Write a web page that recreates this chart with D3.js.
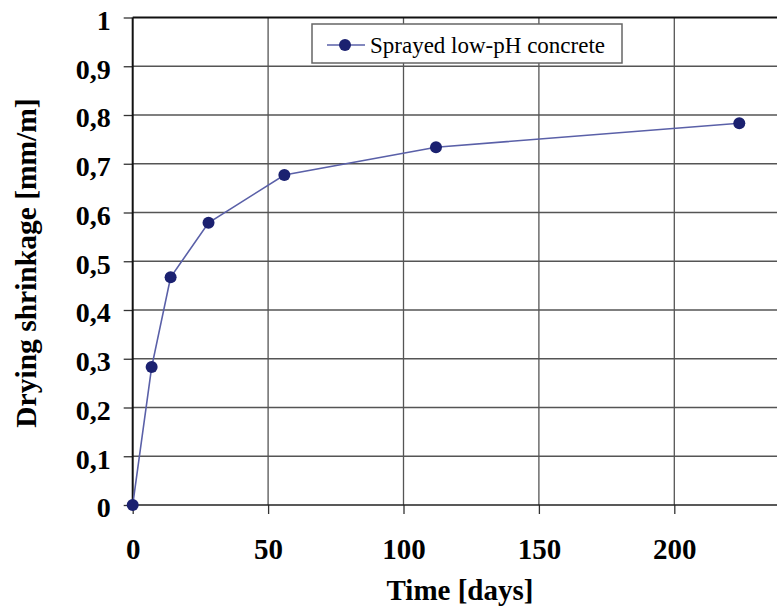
<!DOCTYPE html>
<html>
<head>
<meta charset="utf-8">
<script src="https://cdn.jsdelivr.net/npm/d3@7"></script>
<style>
  html, body { margin: 0; padding: 0; background: #fff; }
  svg { display: block; }
  svg text { font-family: "Liberation Serif", "Times New Roman", Times, "DejaVu Serif", serif; }
</style>
</head>
<body>
<svg id="chart" width="777" height="610"></svg>
<script>
const seriesName = "Sprayed low-pH concrete";
const days = [0, 7, 14, 28, 56, 112, 224];
const shrinkage = [0, 0.283, 0.467, 0.579, 0.677, 0.734, 0.783];
const xTicks = [0, 50, 100, 150, 200];
const yTicks = [0, 0.1, 0.2, 0.3, 0.4, 0.5, 0.6, 0.7, 0.8, 0.9, 1];
const xTitle = "Time [days]";
const yTitle = "Drying shrinkage [mm/m]";

(function () {
const svg = d3.select("#chart");
const pLeft = 132.7, pTop = 17.5, pBottom = 505;
const x0 = d3.scaleLinear().domain([0, 50]).range([pLeft, 268.1]);
const xMax = x0.invert(800);
const x = d3.scaleLinear().domain([0, xMax]).range([pLeft, 800]);
const y = d3.scaleLinear().domain([0, 1]).range([pBottom, pTop]);
const font = '"Liberation Serif", "Times New Roman", Times, serif';

// gridlines
const g = svg.append("g");
g.selectAll("line.h").data(yTicks.slice(1, -1)).join("line")
  .attr("x1", pLeft).attr("x2", 800)
  .attr("y1", d => y(d)).attr("y2", d => y(d))
  .attr("stroke", "#555").attr("stroke-width", 1.3);
g.selectAll("line.v").data(xTicks.slice(1)).join("line")
  .attr("x1", d => x(d)).attr("x2", d => x(d))
  .attr("y1", pTop).attr("y2", pBottom)
  .attr("stroke", "#555").attr("stroke-width", 1.3);

// axes
const yAxis = d3.axisLeft(y).tickValues(yTicks).tickSize(9).tickPadding(13)
  .tickFormat(d => d3.format("")(d).replace(".", ","));
const ya = svg.append("g").attr("transform", `translate(${pLeft},0)`).call(yAxis);
ya.attr("font-family", null);
ya.select(".domain").remove();
ya.selectAll(".tick line").attr("stroke", "#333").attr("stroke-width", 1.3);
ya.selectAll(".tick text").style("font-family", font).style("font-weight", "bold")
  .style("font-size", "28px").attr("fill", "#000").attr("dy", "0.42em");

const xAxis = d3.axisBottom(x).tickValues(xTicks).tickSize(9).tickPadding(24);
const xa = svg.append("g").attr("transform", `translate(0,${pBottom})`).call(xAxis);
xa.attr("font-family", null);
xa.select(".domain").remove();
xa.selectAll(".tick line").attr("stroke", "#333").attr("stroke-width", 1.3);
xa.selectAll(".tick text").style("font-family", font).style("font-weight", "bold")
  .style("font-size", "29px").attr("fill", "#000");

// frame
svg.append("line").attr("x1", pLeft).attr("x2", 800).attr("y1", pTop).attr("y2", pTop)
  .attr("stroke", "#111").attr("stroke-width", 2);
svg.append("line").attr("x1", pLeft).attr("x2", 800).attr("y1", pBottom).attr("y2", pBottom)
  .attr("stroke", "#222").attr("stroke-width", 1.6);
svg.append("line").attr("x1", pLeft).attr("x2", pLeft).attr("y1", pTop).attr("y2", pBottom)
  .attr("stroke", "#111").attr("stroke-width", 2);

// series
const data = days.map((d, i) => [d, shrinkage[i]]);
svg.append("path").datum(data)
  .attr("d", d3.line().x(d => x(d[0])).y(d => y(d[1])))
  .attr("fill", "none").attr("stroke", "#5a60a8").attr("stroke-width", 1.6);
svg.selectAll("circle.pt").data(data).join("circle")
  .attr("cx", d => x(d[0])).attr("cy", d => y(d[1])).attr("r", 6)
  .attr("fill", "#1b2170");

// legend
const lg = svg.append("g");
lg.append("rect").attr("x", 312).attr("y", 24).attr("width", 310).attr("height", 39)
  .attr("fill", "#fff").attr("stroke", "#666").attr("stroke-width", 1.5);
lg.append("line").attr("x1", 327).attr("x2", 365).attr("y1", 45).attr("y2", 45)
  .attr("stroke", "#5a60a8").attr("stroke-width", 1.6);
lg.append("circle").attr("cx", 345).attr("cy", 45).attr("r", 6).attr("fill", "#1b2170");
lg.append("text").attr("x", 370).attr("y", 53).text(seriesName)
  .style("font-family", font).style("font-size", "23px").attr("fill", "#000");

// titles
svg.append("text").attr("x", 460).attr("y", 600).attr("text-anchor", "middle")
  .style("font-family", font).style("font-weight", "bold").style("font-size", "29px")
  .text(xTitle);
svg.append("text").attr("transform", "translate(36,263) rotate(-90)")
  .attr("text-anchor", "middle")
  .style("font-family", font).style("font-weight", "bold").style("font-size", "29.5px")
  .text(yTitle);
})();
</script>
</body>
</html>
